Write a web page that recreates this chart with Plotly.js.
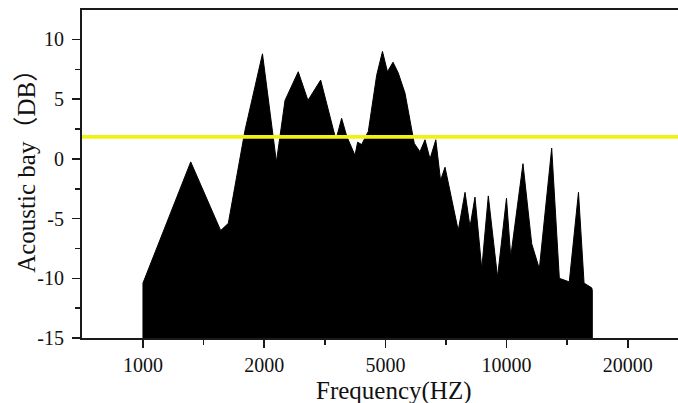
<!DOCTYPE html>
<html>
<head>
<meta charset="utf-8">
<script src="https://cdn.plot.ly/plotly-3.0.1.min.js"></script>
<style>
  html, body { margin: 0; padding: 0; background: #ffffff; overflow: hidden; }
  #chart { width: 678px; height: 403px; }
</style>
</head>
<body>
<div id="chart"></div>
<script>
// Frequency axis: labelled bands sit at equal steps along the axis.
const tickPos = [0, 1, 2, 3, 4];
const tickLabels = ['1000', '2000', '5000', '10000', '20000'];

// Level axis ticks, written with a plain hyphen for the minus sign.
const levelTicks = [-15, -10, -5, 0, 5, 10];
const levelTickLabels = ['-15', '-10', '-5', '0', '5', '10'];

// Position of each spectrum vertex along the frequency axis (1 step = one labelled band).
const bandPos = [
  0.000, 0.394, 0.641, 0.704, 0.842, 0.986, 1.101, 1.172, 1.281, 1.361,
  1.466, 1.592, 1.639, 1.681, 1.749, 1.771, 1.804, 1.859, 1.928, 1.976,
  2.017, 2.063, 2.106, 2.162, 2.203, 2.238, 2.285, 2.327, 2.368, 2.416,
  2.455, 2.492, 2.601, 2.657, 2.698, 2.739, 2.795, 2.849, 2.925, 2.999,
  3.034, 3.135, 3.207, 3.270, 3.372, 3.435, 3.517, 3.593, 3.639, 3.702,
  3.707
];

// Sound level at each vertex, dB.
const levelDb = [
  -10.4, -0.25, -6.0, -5.4, 2.4, 8.8, -0.25, 4.9, 7.3, 4.9,
  6.6, 1.6, 3.4, 1.9, 0.3, 1.4, 1.2, 2.3, 7.0, 9.0,
  7.3, 8.1, 7.2, 5.5, 3.2, 1.3, 0.6, 1.6, 0.0, 1.6,
  -1.8, -0.7, -6.0, -2.8, -5.7, -3.2, -9.2, -3.1, -9.9, -3.3,
  -8.2, -0.4, -7.1, -9.2, 0.9, -10.0, -10.3, -2.8, -10.4, -10.8,
  -11.0
];

const floorDb = -15;        // bottom of the level axis, the area is filled down to it
const thresholdDb = 1.85;   // reference level drawn as the yellow line

const serif = "'Liberation Serif', 'Times New Roman', 'Noto Sans CJK SC', serif";

const areaX = [bandPos[0]].concat(bandPos, [bandPos[bandPos.length - 1]]);
const areaY = [floorDb].concat(levelDb, [floorDb]);

const spectrum = {
  type: 'scatter',
  mode: 'lines',
  x: areaX,
  y: areaY,
  fill: 'toself',
  fillcolor: '#000000',
  line: { color: '#000000', width: 1 },
  hoverinfo: 'skip',
  showlegend: false
};

const axisCommon = {
  showline: true,
  linewidth: 2,
  linecolor: '#1a1a1a',
  ticks: 'outside',
  ticklen: 8,
  tickwidth: 1.5,
  tickcolor: '#1a1a1a',
  showgrid: false,
  zeroline: false,
  tickfont: { family: serif, size: 20, color: '#111111' }
};

const layout = {
  width: 678,
  height: 403,
  margin: { l: 82, r: 0, t: 10, b: 65 },
  paper_bgcolor: '#ffffff',
  plot_bgcolor: '#ffffff',
  showlegend: false,
  xaxis: Object.assign({}, axisCommon, {
    range: [-0.503, 4.414],
    tickmode: 'array',
    tickvals: tickPos,
    ticktext: tickLabels,
    mirror: true,
    minor: { tickvals: [0.5, 1.5, 2.5, 3.5], ticks: 'outside', ticklen: 5, tickwidth: 1.5, tickcolor: '#1a1a1a' }
  }),
  yaxis: Object.assign({}, axisCommon, {
    range: [floorDb, 12.47],
    tickmode: 'array',
    tickvals: levelTicks,
    ticktext: levelTickLabels,
    ticklabelstandoff: 4,
    minor: { tickvals: [-12.5, -7.5, -2.5, 2.5, 7.5], ticks: 'outside', ticklen: 5, tickwidth: 1.5, tickcolor: '#1a1a1a' }
  }),
  shapes: [{
    type: 'line',
    xref: 'paper', x0: 0, x1: 1,
    yref: 'y', y0: thresholdDb, y1: thresholdDb,
    line: { color: '#f2f210', width: 3.8 },
    layer: 'above'
  }],
  annotations: [{
    text: 'Frequency(HZ)',
    xref: 'paper', yref: 'paper',
    x: 0.5235, y: -0.162,
    xanchor: 'center', yanchor: 'middle',
    showarrow: false,
    font: { family: serif, size: 25, color: '#111111' }
  }, {
    text: 'Acoustic bay（DB）',
    xref: 'paper', yref: 'paper',
    x: -0.0923, y: 0.528,
    xanchor: 'center', yanchor: 'middle',
    textangle: -90,
    showarrow: false,
    font: { family: serif, size: 25, color: '#111111' }
  }]
};

Plotly.newPlot('chart', [spectrum], layout, { displayModeBar: false, staticPlot: true });
</script>
</body>
</html>
